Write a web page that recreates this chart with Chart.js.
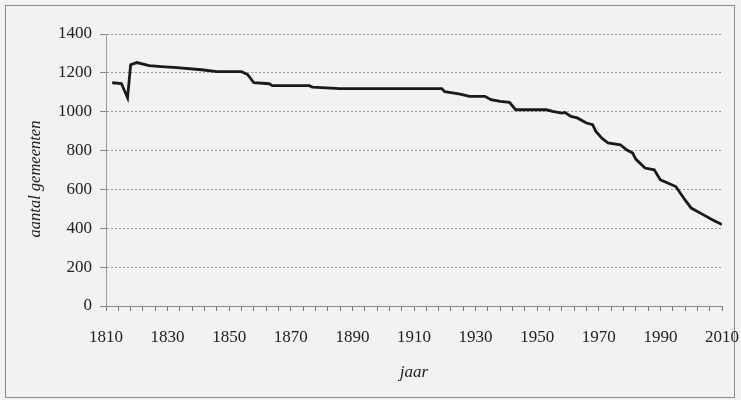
<!DOCTYPE html>
<html>
<head>
<meta charset="utf-8">
<script src="https://cdn.jsdelivr.net/npm/chart.js@4/dist/chart.umd.min.js"></script>
<style>
  html, body { margin: 0; padding: 0; background: #f2f2f2; }
  #wrap { width: 741px; height: 400px; }
</style>
</head>
<body>
<div id="wrap"><canvas id="c" width="741" height="400"></canvas></div>
<script>
const years = [1812, 1815, 1817, 1818, 1820, 1824, 1828, 1833, 1841, 1846, 1854, 1856, 1858, 1863, 1864, 1876, 1877, 1886, 1919, 1920, 1922, 1925, 1928, 1933, 1935, 1938, 1941, 1943, 1953, 1955, 1958, 1959, 1961, 1963, 1966, 1968, 1969, 1971, 1973, 1977, 1979, 1981, 1982, 1985, 1988, 1990, 1992, 1995, 1998, 2000, 2004, 2007, 2010];
const values = [1149, 1145, 1072, 1242, 1253, 1237, 1232, 1227, 1216, 1206, 1206, 1191, 1149, 1144, 1134, 1134, 1127, 1119, 1119, 1103, 1098, 1090, 1079, 1079, 1062, 1053, 1048, 1010, 1010, 1002, 993, 996, 976, 968, 942, 933, 900, 864, 839, 830, 804, 787, 756, 710, 701, 649, 636, 615, 546, 504, 469, 443, 419];
const xLabelYears = [1810, 1830, 1850, 1870, 1890, 1910, 1930, 1950, 1970, 1990, 2010];
const xTickStep = 4;
const yTicks = [0, 200, 400, 600, 800, 1000, 1200, 1400];
const xTitle = 'jaar';
const yTitle = 'aantal gemeenten';

const points = years.map((y, i) => ({ x: y, y: values[i] }));
const xMin = xLabelYears[0], xMax = xLabelYears[xLabelYears.length - 1];
const xTickValues = [];
for (let v = xMin; v <= xMax; v += xTickStep) xTickValues.push(v);

const serif = '"Liberation Serif", "Times New Roman", serif';
const textColor = '#222222';

const framePlugin = {
  id: 'frame',
  beforeDraw(chart) {
    const ctx = chart.ctx;
    ctx.save();
    ctx.fillStyle = '#f2f2f2';
    ctx.fillRect(0, 0, chart.width, chart.height);
    ctx.strokeStyle = '#8a8a8a';
    ctx.lineWidth = 1;
    ctx.strokeRect(5.5, 5.5, 729, 392);
    ctx.restore();
  },
  afterDraw(chart) {
    const ctx = chart.ctx;
    ctx.save();
    ctx.translate(36, 179);
    ctx.rotate(-Math.PI / 2);
    ctx.font = 'italic 16.5px ' + serif;
    ctx.fillStyle = textColor;
    ctx.textAlign = 'center';
    ctx.textBaseline = 'middle';
    ctx.fillText(yTitle, 0, 0);
    ctx.restore();
  }
};

new Chart(document.getElementById('c'), {
  type: 'line',
  data: {
    datasets: [{
      data: points,
      borderColor: '#1a1a1a',
      borderWidth: 2.8,
      pointRadius: 0,
      tension: 0,
      fill: false
    }]
  },
  options: {
    responsive: false,
    animation: false,
    layout: { padding: { left: 0, top: 34, right: 19, bottom: 0 } },
    plugins: { legend: { display: false }, tooltip: { enabled: false } },
    scales: {
      x: {
        type: 'linear',
        min: xMin,
        max: xMax,
        afterBuildTicks(s) { s.ticks = xTickValues.map(v => ({ value: v })); },
        afterFit(s) { s.height = 94; s.paddingLeft = 0; s.paddingRight = 0; },
        ticks: {
          autoSkip: false,
          maxRotation: 0,
          padding: 16,
          color: textColor,
          font: { family: serif, size: 17 },
          callback: (v) => xLabelYears.includes(v) ? String(v) : ''
        },
        grid: {
          drawOnChartArea: false,
          drawTicks: true,
          tickLength: 5,
          tickWidth: 1,
          color: '#7a7a7a',
          tickColor: '#7a7a7a'
        },
        border: { color: '#8a8a8a', width: 1 },
        title: {
          display: true,
          text: xTitle,
          color: textColor,
          font: { family: serif, size: 17, style: 'italic' },
          padding: { top: 0, bottom: 17 }
        }
      },
      y: {
        min: 0,
        max: 1400,
        afterBuildTicks(s) { s.ticks = yTicks.map(v => ({ value: v })); },
        afterFit(s) { s.width = 106; s.paddingTop = 0; s.paddingBottom = 0; },
        ticks: {
          padding: 8,
          color: textColor,
          font: { family: serif, size: 17 },
          callback: (v) => String(v)
        },
        grid: {
          color: '#9a9a9a',
          lineWidth: 1,
          tickLength: 6,
          tickColor: '#8a8a8a',
          tickBorderDash: []
        },
        border: { color: '#9a9a9a', width: 1, dash: [2, 2] }
      }
    }
  },
  plugins: [framePlugin]
});
</script>
</body>
</html>
